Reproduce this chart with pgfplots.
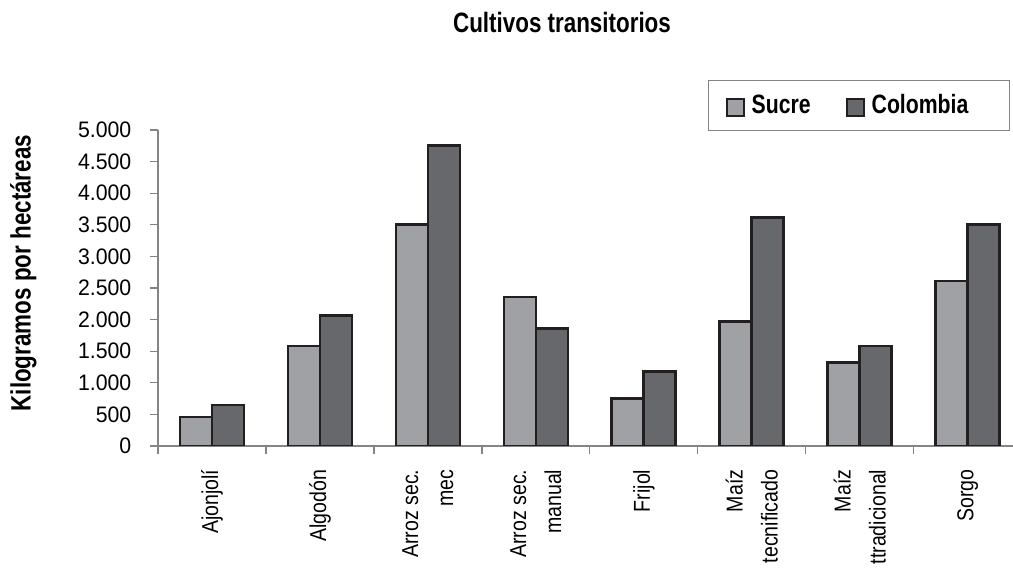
\documentclass[border=0pt]{standalone}
\usepackage{pgfplots}
\pgfplotsset{compat=1.18}
\usepackage{fontspec}
\setmainfont{Liberation Sans}
\newfontfamily\condfont[FakeStretch=0.85]{Liberation Sans}
\newfontfamily\tickfont[FakeStretch=0.95]{Liberation Sans}
\newfontfamily\bcond[FakeStretch=0.80]{Liberation Sans}
\definecolor{sucre}{HTML}{A0A1A5}
\definecolor{colom}{HTML}{67686C}
\definecolor{edge}{HTML}{231F20}
\definecolor{axgray}{HTML}{858585}
\pgfplotsset{sqlegend/.style={legend image code/.code={\draw[##1, line width=1.5pt] (0pt,-7.875pt) rectangle (12.75pt,4.875pt);}}}
\begin{document}
\begin{tikzpicture}
\useasboundingbox (0,0) rectangle (759.75pt,427.5pt);
\begin{axis}[
  at={(118.5pt,93pt)}, anchor=south west,
  scale only axis, width=641.25pt, height=237pt,
  xmin=-0.5, xmax=7.42, ymin=0, ymax=5000,
  ybar=0pt, bar width=24pt,
  axis x line=bottom, axis y line=left,
  axis line style={-, draw=axgray, line width=1pt},
  xtick={0,...,7},
  major x tick style={draw=none},
  minor xtick={-0.5,0.5,...,7.5},
  ytick={0,500,...,5000},
  tick align=outside, major tick length=6pt, minor tick length=6pt,
  tick style={draw=axgray, line width=1pt},
  scaled y ticks=false,
  /pgf/number format/.cd, 1000 sep={.}, assume math mode=true, /pgfplots/.cd,
  yticklabel style={anchor=east, xshift=-10.5pt, font=\tickfont\fontsize{16.8}{20}\selectfont},
  xticklabels={Ajonjolí, Algodón, {Arroz sec.\\mec}, {Arroz sec.\\manual}, Frijol, {Maíz\\tecnificado}, {Maíz\\ttradicional}, Sorgo},
  xticklabel style={yshift=-8.25pt, rotate=90, anchor=east, align=right, font=\condfont\fontsize{17.25}{26.25}\selectfont},
  title={Cultivos transitorios},
  title style={at={(axis description cs:0.4725,1.282)}, anchor=base, font=\bcond\bfseries\fontsize{21}{24}\selectfont},
  ylabel={Kilogramos por hectáreas},
  ylabel style={at={(axis description cs:-0.149,0.547)}, anchor=base, font=\bcond\bfseries\fontsize{21}{24}\selectfont},
  legend columns=2,
  legend style={at={(axis description cs:0.6433,1.1582)}, anchor=north west, draw=axgray, line width=1pt,
    font=\bcond\bfseries\fontsize{19.9}{22}\selectfont, nodes={inner sep=0pt},
    inner xsep=12.75pt, inner ysep=10.3pt,
    column sep=5.25pt, /tikz/every even column/.append style={column sep=26.25pt}},
]
\addplot[fill=sucre, draw=edge, line width=2pt, sqlegend] coordinates {(0,460) (1,1580) (2,3500) (3,2360) (4,750) (5,1970) (6,1320) (7,2610)};
\addplot[fill=colom, draw=edge, line width=2pt, sqlegend] coordinates {(0,650) (1,2070) (2,4750) (3,1860) (4,1180) (5,3620) (6,1580) (7,3500)};
\addlegendentry{Sucre}
\addlegendentry{Colombia\hspace{18pt}\mbox{}}
\end{axis}
\end{tikzpicture}
\end{document}
